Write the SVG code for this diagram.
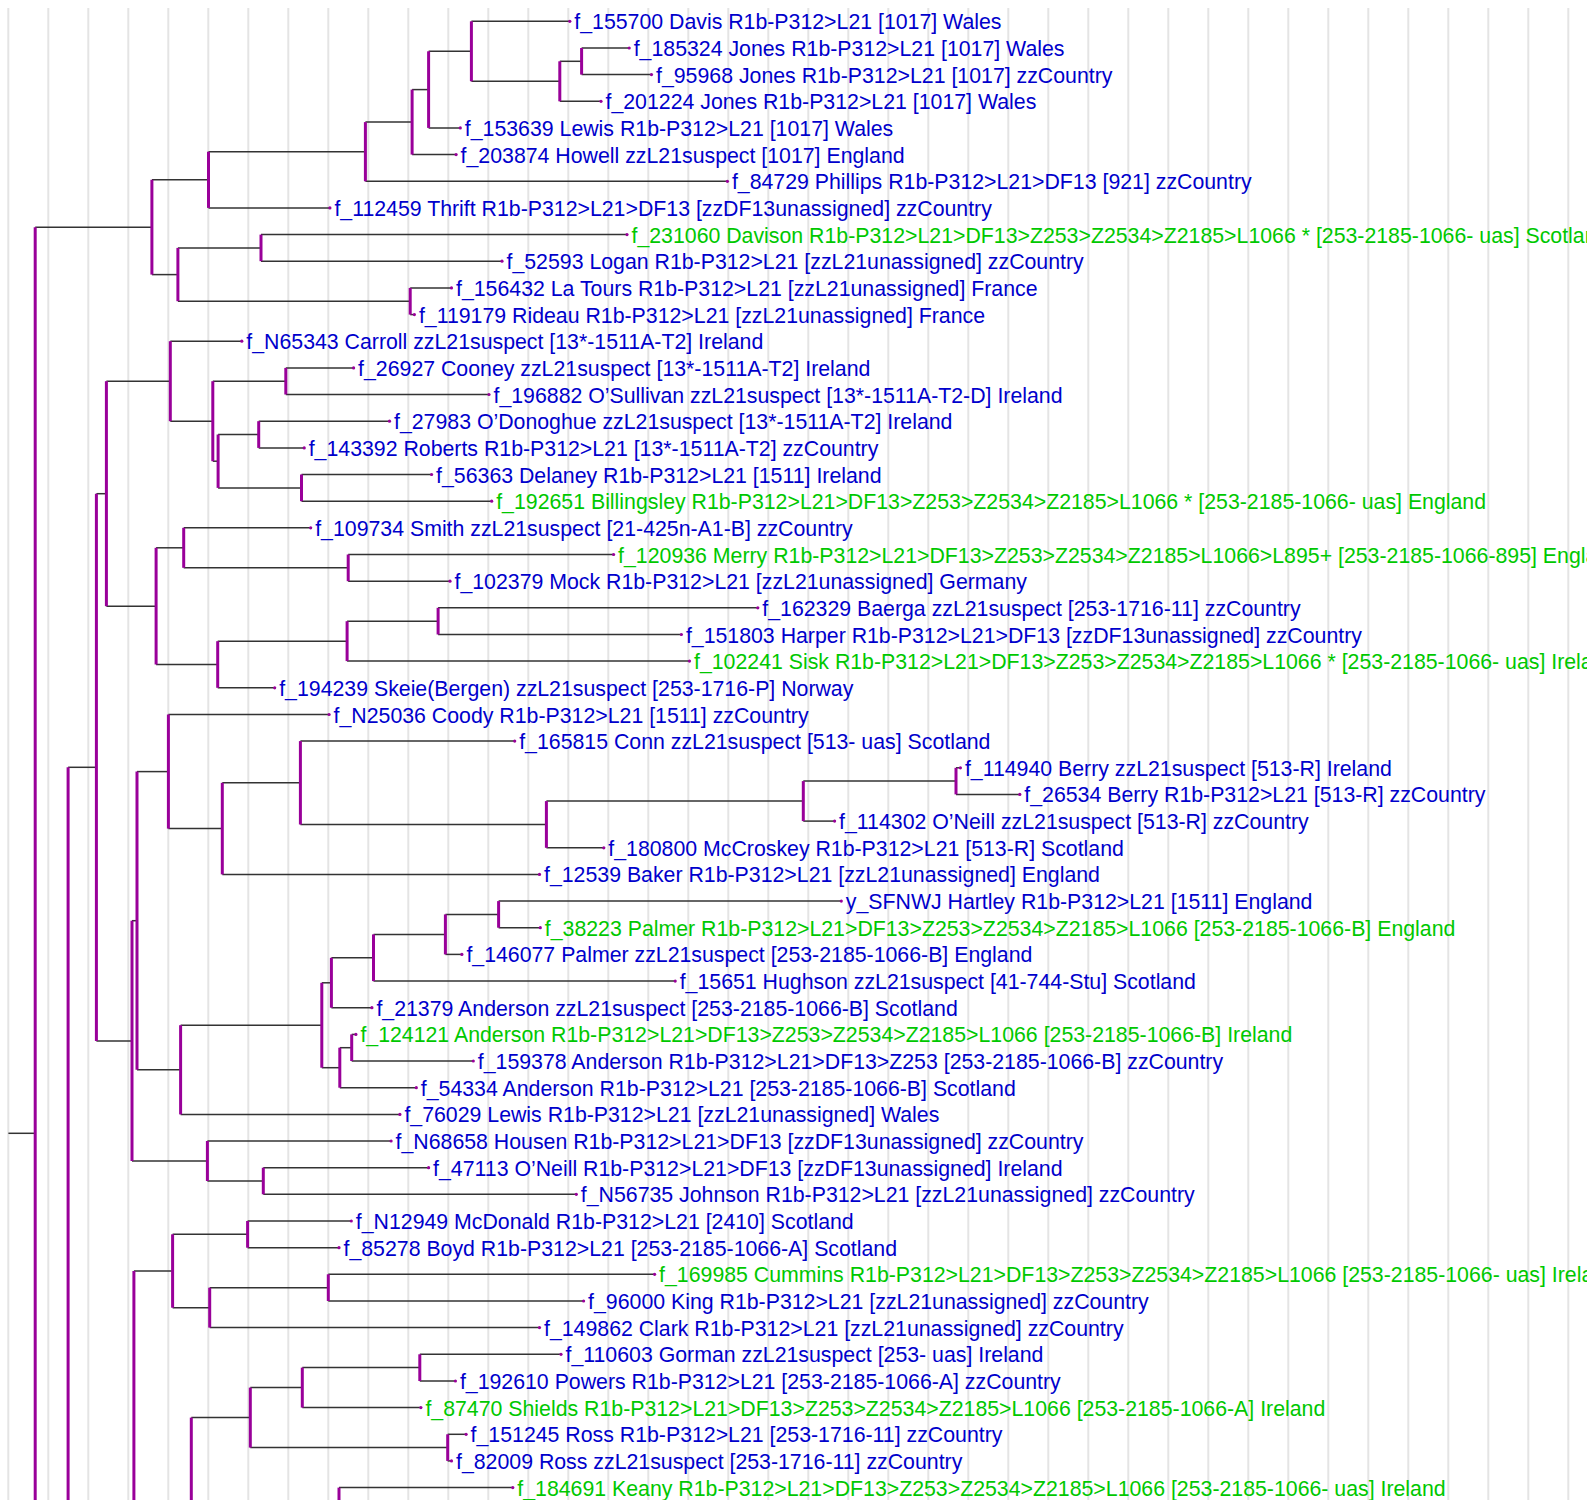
<svg xmlns="http://www.w3.org/2000/svg" width="1587" height="1500" viewBox="0 0 1587 1500">
<style>
.grid{stroke:#e4e4e4;stroke-width:2;fill:none}
.h{stroke:#333;stroke-width:1.5;fill:none}
.v{stroke:#990099;stroke-width:3;fill:none}
.dot{fill:#990099}
text{font-family:"Liberation Sans",Arial,sans-serif;font-size:21.3px}
.b{fill:#0000cc}
.g{fill:#00c800}
</style>
<rect width="1587" height="1500" fill="#fff"/>
<g id="grid" class="grid">
<path d="M8.3 8V1500M48.3 8V1500M88.3 8V1500M128.3 8V1500M168.3 8V1500M208.3 8V1500M248.3 8V1500M288.3 8V1500M328.3 8V1500M368.3 8V1500M408.3 8V1500M448.3 8V1500M488.3 8V1500M528.3 8V1500M568.3 8V1500M608.3 8V1500M648.3 8V1500M688.3 8V1500M728.3 8V1500M768.3 8V1500M808.3 8V1500M848.3 8V1500M888.3 8V1500M928.3 8V1500M968.3 8V1500M1008.3 8V1500M1048.3 8V1500M1088.3 8V1500M1128.3 8V1500M1168.3 8V1500M1208.3 8V1500M1248.3 8V1500M1288.3 8V1500M1328.3 8V1500M1368.3 8V1500M1408.3 8V1500M1448.3 8V1500M1488.3 8V1500M1528.3 8V1500M1568.3 8V1500"/>
</g>
<g id="connectors">
<g class="h">
<path d="M8.4 1133.3H35.2"/>
<path d="M35.2 227.2H151.9"/>
<path d="M151.9 179.8H208.5"/>
<path d="M208.5 151.7H365.4"/>
<path d="M365.4 122.1H412.1"/>
<path d="M412.1 89.6H428.6"/>
<path d="M428.6 51.3H471.4"/>
<path d="M471.4 81.3H559.8"/>
<path d="M559.8 61.3H581.6"/>
<path d="M151.9 274.6H177.9"/>
<path d="M177.9 247.9H261"/>
<path d="M177.9 301.2H410.2"/>
<path d="M68.1 767.3H96.4"/>
<path d="M96.4 493.7H106.4"/>
<path d="M106.4 381.2H170.3"/>
<path d="M170.3 421.2H212.8"/>
<path d="M212.8 381.2H285.8"/>
<path d="M212.8 461.2H218.1"/>
<path d="M218.1 434.5H258.7"/>
<path d="M218.1 487.9H301.5"/>
<path d="M106.4 606.2H156.1"/>
<path d="M156.1 547.8H183.7"/>
<path d="M183.7 567.8H348.2"/>
<path d="M156.1 664.5H217.7"/>
<path d="M217.7 641.2H347.1"/>
<path d="M347.1 621.2H438.1"/>
<path d="M96.4 1040.9H132"/>
<path d="M132 920.7H137"/>
<path d="M137 771.6H168.4"/>
<path d="M168.4 828.6H222.3"/>
<path d="M222.3 782.8H300.4"/>
<path d="M300.4 824.5H546.4"/>
<path d="M546.4 801.1H803.3"/>
<path d="M803.3 781.1H956"/>
<path d="M137 1069.8H180.6"/>
<path d="M180.6 1025.2H321.8"/>
<path d="M321.8 982.8H331.4"/>
<path d="M331.4 957.8H373.5"/>
<path d="M373.5 934.4H445.4"/>
<path d="M445.4 914.4H498.6"/>
<path d="M321.8 1067.7H339.8"/>
<path d="M339.8 1047.7H351.7"/>
<path d="M132 1161H207.4"/>
<path d="M207.4 1181H263.3"/>
<path d="M133.9 1271H172.6"/>
<path d="M172.6 1234.3H247.6"/>
<path d="M172.6 1307.7H209.7"/>
<path d="M209.7 1287.7H328.3"/>
<path d="M191.3 1417.6H250.3"/>
<path d="M250.3 1387.6H302.3"/>
<path d="M302.3 1367.6H419.8"/>
<path d="M250.3 1447.6H447.7"/>
<!-- leaf branches -->
<path d="M471.4 21.3H569.8"/>
<path d="M581.6 48H629.2"/>
<path d="M581.6 74.6H651.5"/>
<path d="M559.8 101.3H601"/>
<path d="M428.6 127.9H460.3"/>
<path d="M412.1 154.6H456.1"/>
<path d="M365.4 181.3H727.4"/>
<path d="M208.5 207.9H329.9"/>
<path d="M261 234.6H627"/>
<path d="M261 261.2H502"/>
<path d="M410.2 287.9H451.5"/>
<path d="M410.2 314.6H414.4"/>
<path d="M170.3 341.2H241.8"/>
<path d="M285.8 367.9H353.6"/>
<path d="M285.8 394.5H489"/>
<path d="M258.7 421.2H389.5"/>
<path d="M258.7 447.9H304.2"/>
<path d="M301.5 474.5H431.6"/>
<path d="M301.5 501.2H491.7"/>
<path d="M183.7 527.8H310.7"/>
<path d="M348.2 554.5H613.6"/>
<path d="M348.2 581.2H450"/>
<path d="M438.1 607.8H757.8"/>
<path d="M438.1 634.5H681.4"/>
<path d="M347.1 661.1H689.5"/>
<path d="M217.7 687.8H274.7"/>
<path d="M168.4 714.5H329.1"/>
<path d="M300.4 741.1H514.7"/>
<path d="M956 767.8H960.4"/>
<path d="M956 794.4H1019.8"/>
<path d="M803.3 821.1H834.6"/>
<path d="M546.4 847.8H603.8"/>
<path d="M222.3 874.4H539.5"/>
<path d="M498.6 901.1H841.3"/>
<path d="M498.6 927.7H540.3"/>
<path d="M445.4 954.4H461.9"/>
<path d="M373.5 981.1H675.2"/>
<path d="M331.4 1007.7H371.9"/>
<path d="M351.7 1034.4H355.9"/>
<path d="M351.7 1061H473.3"/>
<path d="M339.8 1087.7H416.3"/>
<path d="M180.6 1114.4H399.9"/>
<path d="M207.4 1141H391.1"/>
<path d="M263.3 1167.7H428.6"/>
<path d="M263.3 1194.3H576.3"/>
<path d="M247.6 1221H351.3"/>
<path d="M247.6 1247.7H339"/>
<path d="M328.3 1274.3H654.6"/>
<path d="M328.3 1301H583.6"/>
<path d="M209.7 1327.6H539.5"/>
<path d="M419.8 1354.3H561"/>
<path d="M419.8 1381H455.4"/>
<path d="M302.3 1407.6H420.9"/>
<path d="M447.7 1434.3H466.1"/>
<path d="M447.7 1460.9H451.5"/>
<path d="M339 1487.6H512.8"/>
</g>
<g class="v">
<path d="M35.2 227.2V1500"/>
<path d="M151.9 179.8V274.6"/>
<path d="M208.5 151.7V207.9"/>
<path d="M365.4 122.1V181.3"/>
<path d="M412.1 89.6V154.6"/>
<path d="M428.6 51.3V127.9"/>
<path d="M471.4 21.3V81.3"/>
<path d="M559.8 61.3V101.3"/>
<path d="M581.6 48V74.6"/>
<path d="M177.9 247.9V301.2"/>
<path d="M261 234.6V261.2"/>
<path d="M410.2 287.9V314.6"/>
<path d="M68.1 767.3V1500"/>
<path d="M96.4 493.7V1040.9"/>
<path d="M106.4 381.2V606.2"/>
<path d="M170.3 341.2V421.2"/>
<path d="M212.8 381.2V461.2"/>
<path d="M285.8 367.9V394.5"/>
<path d="M218.1 434.5V487.9"/>
<path d="M258.7 421.2V447.9"/>
<path d="M301.5 474.5V501.2"/>
<path d="M156.1 547.8V664.5"/>
<path d="M183.7 527.8V567.8"/>
<path d="M348.2 554.5V581.2"/>
<path d="M217.7 641.2V687.8"/>
<path d="M347.1 621.2V661.1"/>
<path d="M438.1 607.8V634.5"/>
<path d="M132 920.7V1161"/>
<path d="M137 771.6V1069.8"/>
<path d="M168.4 714.5V828.6"/>
<path d="M222.3 782.8V874.4"/>
<path d="M300.4 741.1V824.5"/>
<path d="M546.4 801.1V847.8"/>
<path d="M803.3 781.1V821.1"/>
<path d="M956 767.8V794.4"/>
<path d="M180.6 1025.2V1114.4"/>
<path d="M321.8 982.8V1067.7"/>
<path d="M331.4 957.8V1007.7"/>
<path d="M373.5 934.4V981.1"/>
<path d="M445.4 914.4V954.4"/>
<path d="M498.6 901.1V927.7"/>
<path d="M339.8 1047.7V1087.7"/>
<path d="M351.7 1034.4V1061"/>
<path d="M207.4 1141V1181"/>
<path d="M263.3 1167.7V1194.3"/>
<path d="M133.9 1271V1500"/>
<path d="M172.6 1234.3V1307.7"/>
<path d="M247.6 1221V1247.7"/>
<path d="M209.7 1287.7V1327.6"/>
<path d="M328.3 1274.3V1301"/>
<path d="M191.3 1417.6V1500"/>
<path d="M250.3 1387.6V1447.6"/>
<path d="M302.3 1367.6V1407.6"/>
<path d="M419.8 1354.3V1381"/>
<path d="M447.7 1434.3V1460.9"/>
<path d="M339 1487.6V1500"/>
</g>
</g>
<g id="leaves">
<g id="leaf-155700"><circle class="dot" cx="569.8" cy="21.3" r="1.6"/><text class="b" x="574.3" y="29.3">f_155700 Davis R1b-P312&gt;L21 [1017] Wales</text></g>
<g id="leaf-185324"><circle class="dot" cx="629.2" cy="48" r="1.6"/><text class="b" x="633.7" y="56">f_185324 Jones R1b-P312&gt;L21 [1017] Wales</text></g>
<g id="leaf-95968"><circle class="dot" cx="651.5" cy="74.6" r="1.6"/><text class="b" x="656" y="82.6">f_95968 Jones R1b-P312&gt;L21 [1017] zzCountry</text></g>
<g id="leaf-201224"><circle class="dot" cx="601" cy="101.3" r="1.6"/><text class="b" x="605.5" y="109.3">f_201224 Jones R1b-P312&gt;L21 [1017] Wales</text></g>
<g id="leaf-153639"><circle class="dot" cx="460.3" cy="127.9" r="1.6"/><text class="b" x="464.8" y="135.9">f_153639 Lewis R1b-P312&gt;L21 [1017] Wales</text></g>
<g id="leaf-203874"><circle class="dot" cx="456.1" cy="154.6" r="1.6"/><text class="b" x="460.6" y="162.6">f_203874 Howell zzL21suspect [1017] England</text></g>
<g id="leaf-84729"><circle class="dot" cx="727.4" cy="181.3" r="1.6"/><text class="b" x="731.9" y="189.3">f_84729 Phillips R1b-P312&gt;L21&gt;DF13 [921] zzCountry</text></g>
<g id="leaf-112459"><circle class="dot" cx="329.9" cy="207.9" r="1.6"/><text class="b" x="334.4" y="215.9">f_112459 Thrift R1b-P312&gt;L21&gt;DF13 [zzDF13unassigned] zzCountry</text></g>
<g id="leaf-231060"><circle class="dot" cx="627" cy="234.6" r="1.6"/><text class="g" x="631.5" y="242.6">f_231060 Davison R1b-P312&gt;L21&gt;DF13&gt;Z253&gt;Z2534&gt;Z2185&gt;L1066 * [253-2185-1066- uas] Scotland</text></g>
<g id="leaf-52593"><circle class="dot" cx="502" cy="261.2" r="1.6"/><text class="b" x="506.5" y="269.2">f_52593 Logan R1b-P312&gt;L21 [zzL21unassigned] zzCountry</text></g>
<g id="leaf-156432"><circle class="dot" cx="451.5" cy="287.9" r="1.6"/><text class="b" x="456" y="295.9">f_156432 La Tours R1b-P312&gt;L21 [zzL21unassigned] France</text></g>
<g id="leaf-119179"><circle class="dot" cx="414.4" cy="314.6" r="1.6"/><text class="b" x="418.9" y="322.6">f_119179 Rideau R1b-P312&gt;L21 [zzL21unassigned] France</text></g>
<g id="leaf-N65343"><circle class="dot" cx="241.8" cy="341.2" r="1.6"/><text class="b" x="246.3" y="349.2">f_N65343 Carroll zzL21suspect [13*-1511A-T2] Ireland</text></g>
<g id="leaf-26927"><circle class="dot" cx="353.6" cy="367.9" r="1.6"/><text class="b" x="358.1" y="375.9">f_26927 Cooney zzL21suspect [13*-1511A-T2] Ireland</text></g>
<g id="leaf-196882"><circle class="dot" cx="489" cy="394.5" r="1.6"/><text class="b" x="493.5" y="402.5">f_196882 O’Sullivan zzL21suspect [13*-1511A-T2-D] Ireland</text></g>
<g id="leaf-27983"><circle class="dot" cx="389.5" cy="421.2" r="1.6"/><text class="b" x="394" y="429.2">f_27983 O’Donoghue zzL21suspect [13*-1511A-T2] Ireland</text></g>
<g id="leaf-143392"><circle class="dot" cx="304.2" cy="447.9" r="1.6"/><text class="b" x="308.7" y="455.9">f_143392 Roberts R1b-P312&gt;L21 [13*-1511A-T2] zzCountry</text></g>
<g id="leaf-56363"><circle class="dot" cx="431.6" cy="474.5" r="1.6"/><text class="b" x="436.1" y="482.5">f_56363 Delaney R1b-P312&gt;L21 [1511] Ireland</text></g>
<g id="leaf-192651"><circle class="dot" cx="491.7" cy="501.2" r="1.6"/><text class="g" x="496.2" y="509.2">f_192651 Billingsley R1b-P312&gt;L21&gt;DF13&gt;Z253&gt;Z2534&gt;Z2185&gt;L1066 * [253-2185-1066- uas] England</text></g>
<g id="leaf-109734"><circle class="dot" cx="310.7" cy="527.8" r="1.6"/><text class="b" x="315.2" y="535.8">f_109734 Smith zzL21suspect [21-425n-A1-B] zzCountry</text></g>
<g id="leaf-120936"><circle class="dot" cx="613.6" cy="554.5" r="1.6"/><text class="g" x="618.1" y="562.5">f_120936 Merry R1b-P312&gt;L21&gt;DF13&gt;Z253&gt;Z2534&gt;Z2185&gt;L1066&gt;L895+ [253-2185-1066-895] England</text></g>
<g id="leaf-102379"><circle class="dot" cx="450" cy="581.2" r="1.6"/><text class="b" x="454.5" y="589.2">f_102379 Mock R1b-P312&gt;L21 [zzL21unassigned] Germany</text></g>
<g id="leaf-162329"><circle class="dot" cx="757.8" cy="607.8" r="1.6"/><text class="b" x="762.3" y="615.8">f_162329 Baerga zzL21suspect [253-1716-11] zzCountry</text></g>
<g id="leaf-151803"><circle class="dot" cx="681.4" cy="634.5" r="1.6"/><text class="b" x="685.9" y="642.5">f_151803 Harper R1b-P312&gt;L21&gt;DF13 [zzDF13unassigned] zzCountry</text></g>
<g id="leaf-102241"><circle class="dot" cx="689.5" cy="661.1" r="1.6"/><text class="g" x="694" y="669.1">f_102241 Sisk R1b-P312&gt;L21&gt;DF13&gt;Z253&gt;Z2534&gt;Z2185&gt;L1066 * [253-2185-1066- uas] Ireland</text></g>
<g id="leaf-194239"><circle class="dot" cx="274.7" cy="687.8" r="1.6"/><text class="b" x="279.2" y="695.8">f_194239 Skeie(Bergen) zzL21suspect [253-1716-P] Norway</text></g>
<g id="leaf-N25036"><circle class="dot" cx="329.1" cy="714.5" r="1.6"/><text class="b" x="333.6" y="722.5">f_N25036 Coody R1b-P312&gt;L21 [1511] zzCountry</text></g>
<g id="leaf-165815"><circle class="dot" cx="514.7" cy="741.1" r="1.6"/><text class="b" x="519.2" y="749.1">f_165815 Conn zzL21suspect [513- uas] Scotland</text></g>
<g id="leaf-114940"><circle class="dot" cx="960.4" cy="767.8" r="1.6"/><text class="b" x="964.9" y="775.8">f_114940 Berry zzL21suspect [513-R] Ireland</text></g>
<g id="leaf-26534"><circle class="dot" cx="1019.8" cy="794.4" r="1.6"/><text class="b" x="1024.3" y="802.4">f_26534 Berry R1b-P312&gt;L21 [513-R] zzCountry</text></g>
<g id="leaf-114302"><circle class="dot" cx="834.6" cy="821.1" r="1.6"/><text class="b" x="839.1" y="829.1">f_114302 O’Neill zzL21suspect [513-R] zzCountry</text></g>
<g id="leaf-180800"><circle class="dot" cx="603.8" cy="847.8" r="1.6"/><text class="b" x="608.3" y="855.8">f_180800 McCroskey R1b-P312&gt;L21 [513-R] Scotland</text></g>
<g id="leaf-12539"><circle class="dot" cx="539.5" cy="874.4" r="1.6"/><text class="b" x="544" y="882.4">f_12539 Baker R1b-P312&gt;L21 [zzL21unassigned] England</text></g>
<g id="leaf-SFNWJ"><circle class="dot" cx="841.3" cy="901.1" r="1.6"/><text class="b" x="845.8" y="909.1">y_SFNWJ Hartley R1b-P312&gt;L21 [1511] England</text></g>
<g id="leaf-38223"><circle class="dot" cx="540.3" cy="927.7" r="1.6"/><text class="g" x="544.8" y="935.7">f_38223 Palmer R1b-P312&gt;L21&gt;DF13&gt;Z253&gt;Z2534&gt;Z2185&gt;L1066 [253-2185-1066-B] England</text></g>
<g id="leaf-146077"><circle class="dot" cx="461.9" cy="954.4" r="1.6"/><text class="b" x="466.4" y="962.4">f_146077 Palmer zzL21suspect [253-2185-1066-B] England</text></g>
<g id="leaf-15651"><circle class="dot" cx="675.2" cy="981.1" r="1.6"/><text class="b" x="679.7" y="989.1">f_15651 Hughson zzL21suspect [41-744-Stu] Scotland</text></g>
<g id="leaf-21379"><circle class="dot" cx="371.9" cy="1007.7" r="1.6"/><text class="b" x="376.4" y="1015.7">f_21379 Anderson zzL21suspect [253-2185-1066-B] Scotland</text></g>
<g id="leaf-124121"><circle class="dot" cx="355.9" cy="1034.4" r="1.6"/><text class="g" x="360.4" y="1042.4">f_124121 Anderson R1b-P312&gt;L21&gt;DF13&gt;Z253&gt;Z2534&gt;Z2185&gt;L1066 [253-2185-1066-B] Ireland</text></g>
<g id="leaf-159378"><circle class="dot" cx="473.3" cy="1061" r="1.6"/><text class="b" x="477.8" y="1069">f_159378 Anderson R1b-P312&gt;L21&gt;DF13&gt;Z253 [253-2185-1066-B] zzCountry</text></g>
<g id="leaf-54334"><circle class="dot" cx="416.3" cy="1087.7" r="1.6"/><text class="b" x="420.8" y="1095.7">f_54334 Anderson R1b-P312&gt;L21 [253-2185-1066-B] Scotland</text></g>
<g id="leaf-76029"><circle class="dot" cx="399.9" cy="1114.4" r="1.6"/><text class="b" x="404.4" y="1122.4">f_76029 Lewis R1b-P312&gt;L21 [zzL21unassigned] Wales</text></g>
<g id="leaf-N68658"><circle class="dot" cx="391.1" cy="1141" r="1.6"/><text class="b" x="395.6" y="1149">f_N68658 Housen R1b-P312&gt;L21&gt;DF13 [zzDF13unassigned] zzCountry</text></g>
<g id="leaf-47113"><circle class="dot" cx="428.6" cy="1167.7" r="1.6"/><text class="b" x="433.1" y="1175.7">f_47113 O’Neill R1b-P312&gt;L21&gt;DF13 [zzDF13unassigned] Ireland</text></g>
<g id="leaf-N56735"><circle class="dot" cx="576.3" cy="1194.3" r="1.6"/><text class="b" x="580.8" y="1202.3">f_N56735 Johnson R1b-P312&gt;L21 [zzL21unassigned] zzCountry</text></g>
<g id="leaf-N12949"><circle class="dot" cx="351.3" cy="1221" r="1.6"/><text class="b" x="355.8" y="1229">f_N12949 McDonald R1b-P312&gt;L21 [2410] Scotland</text></g>
<g id="leaf-85278"><circle class="dot" cx="339" cy="1247.7" r="1.6"/><text class="b" x="343.5" y="1255.7">f_85278 Boyd R1b-P312&gt;L21 [253-2185-1066-A] Scotland</text></g>
<g id="leaf-169985"><circle class="dot" cx="654.6" cy="1274.3" r="1.6"/><text class="g" x="659.1" y="1282.3">f_169985 Cummins R1b-P312&gt;L21&gt;DF13&gt;Z253&gt;Z2534&gt;Z2185&gt;L1066 [253-2185-1066- uas] Ireland</text></g>
<g id="leaf-96000"><circle class="dot" cx="583.6" cy="1301" r="1.6"/><text class="b" x="588.1" y="1309">f_96000 King R1b-P312&gt;L21 [zzL21unassigned] zzCountry</text></g>
<g id="leaf-149862"><circle class="dot" cx="539.5" cy="1327.6" r="1.6"/><text class="b" x="544" y="1335.6">f_149862 Clark R1b-P312&gt;L21 [zzL21unassigned] zzCountry</text></g>
<g id="leaf-110603"><circle class="dot" cx="561" cy="1354.3" r="1.6"/><text class="b" x="565.5" y="1362.3">f_110603 Gorman zzL21suspect [253- uas] Ireland</text></g>
<g id="leaf-192610"><circle class="dot" cx="455.4" cy="1381" r="1.6"/><text class="b" x="459.9" y="1389">f_192610 Powers R1b-P312&gt;L21 [253-2185-1066-A] zzCountry</text></g>
<g id="leaf-87470"><circle class="dot" cx="420.9" cy="1407.6" r="1.6"/><text class="g" x="425.4" y="1415.6">f_87470 Shields R1b-P312&gt;L21&gt;DF13&gt;Z253&gt;Z2534&gt;Z2185&gt;L1066 [253-2185-1066-A] Ireland</text></g>
<g id="leaf-151245"><circle class="dot" cx="466.1" cy="1434.3" r="1.6"/><text class="b" x="470.6" y="1442.3">f_151245 Ross R1b-P312&gt;L21 [253-1716-11] zzCountry</text></g>
<g id="leaf-82009"><circle class="dot" cx="451.5" cy="1460.9" r="1.6"/><text class="b" x="456" y="1468.9">f_82009 Ross zzL21suspect [253-1716-11] zzCountry</text></g>
<g id="leaf-184691"><circle class="dot" cx="512.8" cy="1487.6" r="1.6"/><text class="g" x="517.3" y="1495.6">f_184691 Keany R1b-P312&gt;L21&gt;DF13&gt;Z253&gt;Z2534&gt;Z2185&gt;L1066 [253-2185-1066- uas] Ireland</text></g>
</g>
</svg>
